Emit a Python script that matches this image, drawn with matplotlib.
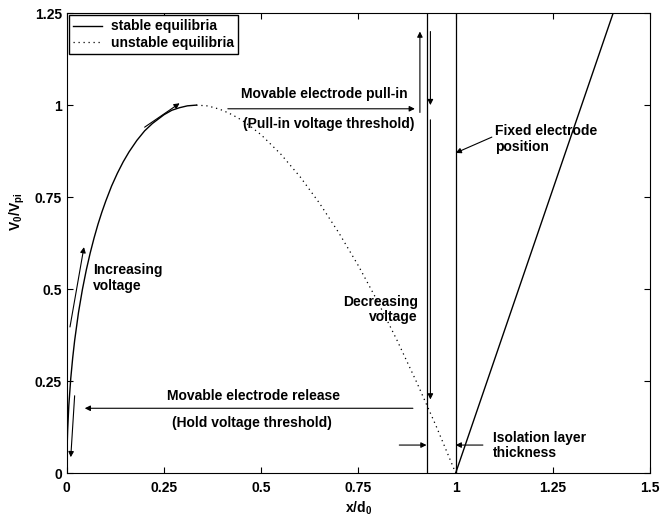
import matplotlib
matplotlib.use('Agg')
import matplotlib.pyplot as plt

plt.rcParams['font.family'] = ['Liberation Sans', 'DejaVu Sans']
plt.rcParams['font.weight'] = 'bold'
plt.rcParams['mathtext.fontset'] = 'custom'
plt.rcParams['mathtext.rm'] = 'Liberation Sans:bold'
plt.rcParams['mathtext.it'] = 'Liberation Sans:bold'
plt.rcParams['mathtext.bf'] = 'Liberation Sans:bold'
plt.rcParams['mathtext.default'] = 'rm'
plt.rcParams['font.size'] = 10

# stable branch
x_stable = [0, 0.001, 0.002, 0.005, 0.01, 0.015, 0.02, 0.03, 0.04, 0.05, 0.06, 0.07, 0.08, 0.09,
            0.1, 0.115, 0.13, 0.145, 0.16, 0.18, 0.2, 0.22, 0.25, 0.27, 0.29, 0.31, 0.333]
v_stable = [0, 0.082, 0.116, 0.183, 0.257, 0.313, 0.360, 0.437, 0.499, 0.552, 0.598, 0.639, 0.676, 0.709,
            0.739, 0.780, 0.815, 0.846, 0.873, 0.904, 0.930, 0.950, 0.974, 0.986, 0.993, 0.998, 1.0]

# unstable branch
x_unstable = [0.333, 0.36, 0.38, 0.4, 0.425, 0.45, 0.475, 0.5, 0.55, 0.6, 0.65, 0.7, 0.75, 0.8,
              0.85, 0.9, 0.95, 1.0]
v_unstable = [1.0, 0.998, 0.993, 0.986, 0.974, 0.959, 0.940, 0.919, 0.867, 0.805, 0.733, 0.652, 0.563, 0.465,
              0.359, 0.246, 0.127, 0.0]

# after contact
x_contact = [1.0, 1.405]
v_contact = [0.0, 1.25]

x_isolation = 0.925
x_fixed = 1.0

xticks = [0, 0.25, 0.5, 0.75, 1, 1.25, 1.5]
xticklabels = ['0', '0.25', '0.5', '0.75', '1', '1.25', '1.5']
yticks = [0, 0.25, 0.5, 0.75, 1, 1.25]
yticklabels = ['0', '0.25', '0.5', '0.75', '1', '1.25']

fig = plt.figure(figsize=(6.62, 5.25), dpi=100)
ax = fig.add_axes([0.101, 0.099, 0.881, 0.876])

ax.plot(x_stable, v_stable, 'k-', lw=1.0, label='stable equilibria')
ax.plot(x_unstable, v_unstable, color='k', lw=0.9, linestyle=(0, (1, 3)), label='unstable equilibria')
ax.plot(x_contact, v_contact, 'k-', lw=1.0)
ax.plot([x_isolation, x_isolation], [0, 1.25], 'k-', lw=0.9)
ax.plot([x_fixed, x_fixed], [0, 1.25], 'k-', lw=0.9)

ax.set_xlim(0, 1.5)
ax.set_ylim(0, 1.25)
ax.set_xticks(xticks)
ax.set_xticklabels(xticklabels)
ax.set_yticks(yticks)
ax.set_yticklabels(yticklabels)
ax.tick_params(direction='in', top=True, right=True, length=4, labelsize=10)
ax.tick_params(axis='x', pad=6)
ax.set_xlabel('$x/d_0$', labelpad=3)
ax.set_ylabel('$V_0/V_{pi}$')
ax.yaxis.set_label_coords(-0.068, 0.567)

ax.legend(loc='upper left', fancybox=False, edgecolor='k', framealpha=1,
          borderaxespad=0.15, handlelength=2.1, handletextpad=0.6,
          borderpad=0.3, labelspacing=0.2)

arr = dict(arrowstyle='-|>', color='k', lw=0.8, mutation_scale=8, shrinkA=0, shrinkB=0)

# left side arrows
ax.annotate('', xy=(0.044, 0.614), xytext=(0.008, 0.397), arrowprops=arr)
ax.annotate('', xy=(0.29, 1.005), xytext=(0.2, 0.94), arrowprops=arr)
ax.annotate('', xy=(0.01, 0.043), xytext=(0.02, 0.21), arrowprops=arr)
ax.text(0.067, 0.53, 'Increasing\nvoltage', ha='left', va='center', linespacing=1.1)

# pull-in
ax.annotate('', xy=(0.895, 0.99), xytext=(0.414, 0.99), arrowprops=arr)
ax.text(0.661, 1.03, 'Movable electrode pull-in', ha='center', va='center')
ax.text(0.674, 0.95, '(Pull-in voltage threshold)', ha='center', va='center')

# vertical arrows near the isolation layer
ax.annotate('', xy=(0.908, 1.2), xytext=(0.908, 0.98), arrowprops=arr)
ax.annotate('', xy=(0.935, 1.0), xytext=(0.935, 1.2), arrowprops=arr)
ax.annotate('', xy=(0.935, 0.2), xytext=(0.935, 0.96), arrowprops=arr)
ax.text(0.903, 0.445, 'Decreasing\nvoltage', ha='right', va='center', linespacing=1.1)

# release
ax.annotate('', xy=(0.046, 0.176), xytext=(0.89, 0.176), arrowprops=arr)
ax.text(0.481, 0.209, 'Movable electrode release', ha='center', va='center')
ax.text(0.477, 0.136, '(Hold voltage threshold)', ha='center', va='center')

# fixed electrode
ax.annotate('', xy=(1.0, 0.87), xytext=(1.093, 0.913), arrowprops=arr)
ax.text(1.10, 0.908, 'Fixed electrode\nposition', ha='left', va='center', linespacing=1.1)

# isolation layer
ax.annotate('', xy=(x_isolation, 0.076), xytext=(0.855, 0.076), arrowprops=arr)
ax.annotate('', xy=(x_fixed, 0.076), xytext=(1.07, 0.076), arrowprops=arr)
ax.text(1.096, 0.074, 'Isolation layer\nthickness', ha='left', va='center', linespacing=1.1)

fig.savefig('out.png', dpi=100)
